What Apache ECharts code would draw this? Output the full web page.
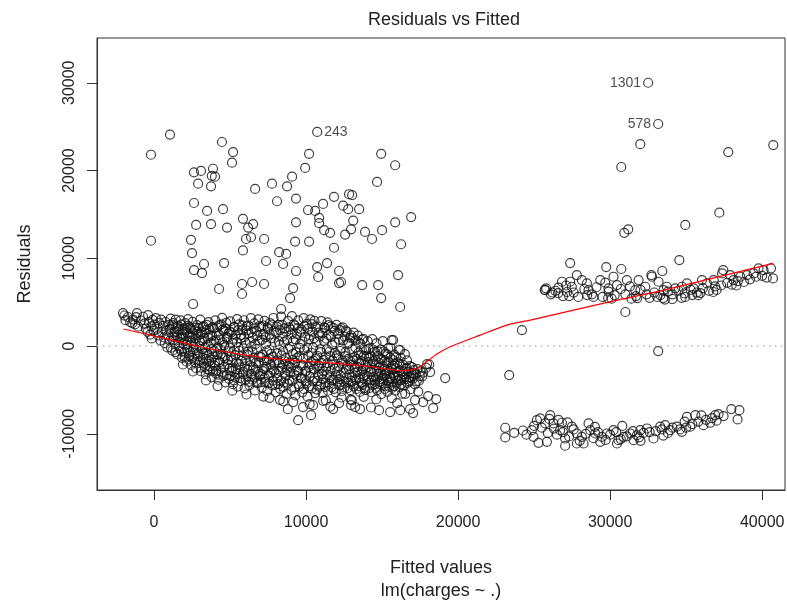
<!DOCTYPE html>
<html>
<head>
<meta charset="utf-8">
<title>Residuals vs Fitted</title>
<script src="https://cdn.jsdelivr.net/npm/echarts@6/dist/echarts.min.js"></script>
<style>
  html, body { margin: 0; padding: 0; background: #fff; }
  #main { width: 787px; height: 602px; }
</style>
</head>
<body>
<div id="main"></div>
<script>
// axis ranges and ticks
const xMin = -3750
const xMax = 41500
const yMin = -16400
const yMax = 35100
const xTicks = [0, 10000, 20000, 30000, 40000]
const yTicks = [-10000, 0, 10000, 20000, 30000]

// dense band of residuals at low fitted values [fitted, residual]
const clusterPoints = [
  [-2040,3760],[-1710,3310],[-1880,2950],[-1560,2720],[-1950,3480],[-1380,3020],[-1120,3760],[-1250,2480],[-1040,2210],[-1430,2600],[-1180,3290],
  [-870,2910],[-720,3340],[-640,2560],[-540,1980],[-390,3530],[-330,2720],[-180,2240],[-420,1620],[-260,1310],[-90,2980],[-30,1760],[-150,870],[40,2450],
  [120,3180],[210,1960],[280,1220],[340,2640],[430,620],[470,3010],[520,1580],[590,2290],[650,980],[710,330],[760,2740],[820,1760],[880,-160],[930,1230],[990,2420],[1040,610],
  [1090,3120],[1150,1890],[1210,-520],[1260,2610],[1320,1020],[1370,240],[1430,3020],[1480,1640],[1540,-950],[1590,2270],[1640,460],[1690,-280],[1750,2920],[1800,1290],[1850,-1340],[1900,1920],[1960,820],[2000,-650],
  [2050,2610],[2090,140],[2150,-1780],[2200,1480],[2240,3070],[2300,-1090],[2350,2130],[2390,620],[2440,-2150],[2490,1020],[2540,2760],[2590,-420],[2630,-1560],[2680,1780],[2720,230],[2770,-2530],[2820,2390],[2860,-860],[2910,1260],[2960,-1930],[3000,530],
  [3040,3010],[3080,-2870],[3130,1630],[3170,-330],[3220,-1340],[3260,2280],[3310,880],[3350,-2360],[3400,-3210],[3440,1840],[3490,-760],[3530,120],[3580,2720],[3620,-1720],[3670,-2790],[3710,1220],[3760,-380],[3800,-3560],[3850,2160],[3890,-1190],[3940,560],[3980,-2240],
  [4030,2930],[4070,-3120],[4120,1460],[4160,-170],[4210,-1640],[4250,-3840],[4300,2380],[4340,740],[4390,-920],[4430,-2580],[4480,3220],[4520,1880],[4570,-3410],[4610,110],[4660,-1360],[4700,-4130],[4750,2640],[4790,1020],[4840,-2060],[4880,-560],[4930,-3730],[4970,1660],
  [5010,2820],[5060,-1210],[5100,-2820],[5150,370],[5190,-4340],[5240,2160],[5280,-530],[5330,-3560],[5370,1290],[5420,-1870],[5460,3060],[5510,-4610],[5550,-160],[5600,2470],[5640,-2440],[5690,880],[5730,-3980],[5780,-1080],[5820,1830],[5870,-2980],[5910,2940],[5960,-4820],
  [6010,390],[6050,-1630],[6100,2270],[6140,-3420],[6190,-640],[6230,1460],[6280,-4460],[6320,-2210],[6370,3180],[6410,-80],[6460,-3830],[6500,970],[6550,-1380],[6590,2580],[6640,-5060],[6680,-2690],[6730,1720],[6770,-360],[6820,-4220],[6860,3040],[6910,-1930],[6950,610],
  [7000,-3190],[7050,2190],[7090,-4730],[7140,-980],[7180,1340],[7230,-2560],[7270,2860],[7320,-4080],[7360,240],[7410,-1620],[7450,-5110],[7500,1960],[7540,-3380],[7590,-420],[7630,2630],[7680,-2090],[7720,880],[7770,-4490],[7810,-1240],[7860,3200],[7900,-2820],[7950,420],
  [8000,-5260],[8040,1540],[8090,-830],[8130,-3640],[8180,2410],[8220,-1920],[8270,130],[8310,-4870],[8360,3360],[8400,-2480],[8450,1070],[8490,-560],[8540,-4160],[8580,2020],[8630,-3040],[8670,-1380],[8720,-5440],[8760,720],[8810,2870],[8850,-2260],[8900,-3850],[8940,-80],[8990,1880],
  [9030,-4980],[9070,3410],[9120,-1570],[9160,560],[9210,-3210],[9250,2340],[9300,-5620],[9340,-720],[9390,1390],[9430,-2740],[9480,2930],[9520,-4340],[9570,-1130],[9610,240],[9660,-3620],[9700,1880],[9750,-5270],[9790,-2190],[9840,3180],[9880,-430],[9930,1060],[9970,-4000],
  [10010,-2840],[10060,2520],[10100,-5770],[10150,-1050],[10190,780],[10240,-3480],[10280,3050],[10330,-1820],[10370,-4830],[10420,1640],[10460,-180],[10510,-2590],[10550,2880],[10600,-5360],[10640,-1410],[10690,440],[10730,-3970],[10780,2230],[10820,-2210],[10870,-4620],[10910,1090],[10960,-680],
  [11000,2830],[11050,-3190],[11090,-5340],[11140,-1610],[11180,590],[11230,2060],[11270,-4210],[11320,-2470],[11360,-380],[11410,2700],[11450,-5090],[11500,1270],[11540,-3560],[11590,-1150],[11630,2210],[11680,-4690],[11720,160],[11770,-2120],[11810,-3840],[11860,1730],[11900,-780],[11950,-5270],
  [12000,2420],[12050,-2870],[12090,-1390],[12140,760],[12180,-4460],[12230,1810],[12270,-3360],[12320,-280],[12360,-5120],[12410,2140],[12450,-1920],[12500,-4040],[12540,1060],[12590,-690],[12630,-2660],[12680,1620],[12720,-4800],[12770,-1460],[12810,390],[12860,-3270],[12900,-5030],[12950,1230],
  [13000,-2130],[13040,-380],[13090,-4350],[13130,1540],[13180,-1260],[13220,-3050],[13270,640],[13310,-4880],[13360,-2360],[13400,1180],[13450,-760],[13490,-3690],[13540,-5230],[13580,240],[13630,-1710],[13670,-2860],[13720,-4420],[13760,830],[13810,-1120],[13850,-3320],[13900,-5010],[13950,-460],
  [14000,-2440],[14050,560],[14090,-3880],[14140,-1340],[14180,-4770],[14230,-220],[14270,-2920],[14320,-5260],[14360,790],[14410,-1760],[14450,-3530],[14500,-660],[14540,-4330],[14590,-2180],[14630,310],[14680,-5020],[14720,-1120],[14770,-3190],[14810,-2460],[14860,-4060],[14900,-410],[14950,-5470],
  [15000,-1580],[15050,560],[15090,-3660],[15140,-2640],[15180,-4890],[15230,-860],[15270,-3130],[15320,-1920],[15360,-5210],[15410,-240],[15450,-4150],[15500,-2810],[15540,-1330],[15590,-3620],[15630,680],[15680,-4740],[15720,-2230],[15770,-3380],[15810,-1010],[15860,-5080],[15900,-2540],[15950,-4260],
  [16000,-1870],[16050,-3420],[16090,-420],[16140,-4660],[16180,-2760],[16230,-1340],[16270,-3880],[16320,-5420],[16360,-2120],[16410,-3190],[16450,-4480],[16500,-920],[16550,-2560],[16590,-3760],[16640,-1640],[16680,-4190],[16730,-2930],[16780,-3540],[16820,-2290],[16870,-4920],[16920,-3060],[16970,-2410],[17020,-3710],[17100,-2750],[17160,-4360],[17230,-3200],[17320,-2620],[17420,-3980],[17520,-2880],[17650,-3450],[17900,-2470],[18100,-2100]
]

// extra points in the darkest part of the band
const clusterCore = [
  [1020,1940],[1110,-180],[1190,2380],[1280,640],[1340,1540],[1410,-690],[1460,2170],[1530,1020],[1610,1820],[1670,-20],[1730,880],[1780,2450],[1830,-610],[1890,1390],[1940,240],[1990,2010],
  [2020,-1240],[2070,1830],[2130,570],[2180,-310],[2220,2290],[2270,-1520],[2330,1080],[2370,-720],[2420,1960],[2460,360],[2510,-1380],[2560,1430],[2610,-90],[2660,2110],[2700,-1850],[2750,870],[2790,-470],[2840,1620],[2890,-1180],[2940,2060],[2980,-20],
  [3020,-1650],[3060,1340],[3110,-2460],[3150,620],[3200,2180],[3240,-870],[3290,-2010],[3330,1520],[3370,-180],[3420,-1480],[3460,2420],[3510,-2630],[3560,930],[3600,-1040],[3640,1930],[3690,-2260],[3730,380],[3780,-1560],[3820,1170],[3870,-2840],[3910,2010],[3960,-570],
  [4010,-1920],[4050,660],[4090,-2790],[4140,2140],[4180,-980],[4230,-3260],[4270,1230],[4320,-1820],[4360,-380],[4410,2470],[4450,-3020],[4500,420],[4540,-1180],[4590,1720],[4630,-2330],[4680,-160],[4720,2010],[4770,-3300],[4810,870],[4860,-1540],[4900,1420],[4950,-2560],[4990,-220],
  [5030,-3430],[5080,1560],[5120,-1640],[5170,-2470],[5210,840],[5260,-3900],[5300,2160],[5350,-1020],[5390,-2650],[5440,450],[5480,-3170],[5530,1810],[5570,-2050],[5620,-560],[5660,-3630],[5710,1240],[5750,-1690],[5800,2360],[5840,-3210],[5890,-260],[5930,1010],[5980,-2330],
  [6030,-3820],[6070,1790],[6120,-980],[6160,-2710],[6210,2340],[6250,-4070],[6300,480],[6340,-1740],[6390,-3190],[6430,1580],[6480,-620],[6520,-2430],[6570,2010],[6610,-3560],[6660,210],[6700,-1890],[6750,-4160],[6790,1200],[6840,-2940],[6880,-1160],[6930,2260],[6970,-3420],
  [7020,-1260],[7070,-4120],[7110,710],[7160,-2860],[7200,2340],[7250,-1760],[7290,-3620],[7340,1020],[7380,-2360],[7430,-540],[7470,2120],[7520,-4240],[7560,-1480],[7610,1340],[7650,-3060],[7700,-880],[7740,2440],[7790,-2660],[7830,-3930],[7880,1690],[7920,-1950],[7970,-4410],
  [8020,-3120],[8070,2210],[8110,-1620],[8160,-4330],[8200,560],[8250,-2830],[8290,1820],[8340,-3980],[8380,-1060],[8430,2430],[8470,-2050],[8520,-4640],[8560,440],[8610,-1730],[8650,-3460],[8700,1610],[8740,-2720],[8790,-4280],[8830,-330],[8880,2140],[8920,-1940],[8970,-3020],
  [9010,-2460],[9050,1330],[9100,-3920],[9140,-890],[9190,2480],[9230,-4720],[9280,-1910],[9320,780],[9370,-3380],[9410,-1340],[9460,2060],[9500,-2930],[9550,-4610],[9590,-210],[9640,1620],[9680,-2240],[9730,-3710],[9770,520],[9820,-1420],[9860,-4890],[9910,2310],[9950,-2890],
  [10030,-4250],[10080,-240],[10120,1950],[10170,-2380],[10210,-4570],[10260,1230],[10300,-3040],[10350,-760],[10390,2510],[10440,-4010],[10480,-1670],[10530,910],[10570,-3640],[10620,-2020],[10660,2140],[10710,-4960],[10750,-1130],[10800,-3280],[10840,1540],[10890,-2570],[10930,-380],[10980,-4390],
  [11020,-1920],[11070,1480],[11110,-3760],[11160,-2860],[11200,2130],[11250,-4660],[11290,-1190],[11340,840],[11380,-3260],[11430,-1950],[11470,2390],[11520,-4300],[11560,-620],[11610,-2830],[11650,1040],[11700,-3890],[11740,-1660],[11790,2070],[11830,-4870],[11880,-2560],[11920,420],[11970,-3330],
  [12020,-1060],[12070,-4060],[12110,1420],[12160,-2280],[12200,-3760],[12250,-560],[12290,2030],[12340,-4420],[12380,-1680],[12430,620],[12470,-2990],[12520,-4710],[12560,-1140],[12610,1760],[12650,-3580],[12700,-2240],[12740,260],[12790,-4160],[12830,-2620],[12880,960],[12920,-1750],[12970,-3960],
  [13020,-3560],[13060,940],[13110,-1660],[13150,-4590],[13200,-2430],[13240,-140],[13290,-3820],[13330,-1480],[13380,-2980],[13420,450],[13470,-4560],[13510,-1920],[13560,-3240],[13600,-1060],[13650,-4160],[13690,720],[13740,-2560],[13780,-3660],[13830,-420],[13870,-4760],[13920,-2140],[13970,-1210],
  [14020,-3460],[14070,-1820],[14110,-320],[14160,-4180],[14200,-2640],[14250,-1160],[14290,-3860],[14340,-2040],[14380,-4460],[14430,-420],[14470,-2720],[14520,-3920],[14560,-1540],[14610,-4780],[14650,-2820],[14700,-560],[14740,-3560],[14790,-1880],[14830,-4320],[14880,-2980],[14920,-1460],[14970,-3760],
  [15020,-4260],[15070,-2280],[15110,-620],[15160,-3360],[15200,-1640],[15250,-4520],[15290,-2760],[15340,-960],[15380,-3880],[15430,-1860],[15470,-4640],[15520,-3460],[15560,-220],[15610,-2560],[15650,-4040],[15700,-1560],[15740,-3120],[15790,-4560],[15830,-2060],[15880,-3640],[15920,-1260],[15970,-2980],
  [16060,-3880],[16160,-2040],[16260,-4360],[16380,-2880],[16480,-3600],[16620,-2480],[16760,-4020],[16900,-3560],[17080,-3120],[17280,-4020],[17480,-3400],[17700,-3020]
]

// points below the dense band
const lowerOutliers = [
  [19150,-3650],[18560,-6040],[18360,-7070],[17040,-7640],[16840,-7180],[15530,-7520],[13550,-7180],[13230,-6950],[11780,-7180],[17700,-6380],[15990,-6500],
  [18160,-2960],[17960,-2050],[9480,-8440],[10330,-7870],[9800,-6950],[10460,-6730],[12170,-6500],[12960,-6720],[14270,-7000],[14800,-7300],[16190,-7300],
  [17170,-6150],[18030,-5700],[15730,680],[16190,-460],[12950,-6100],[8500,-6300],[7600,-5900],[11300,-6200],
  [3420,-3920],[4180,-4560],[5150,-5080],[6080,-5520],[7190,-5760],[8280,-6120],[9150,-6380],[10240,-6620],[11120,-6240],[12330,-5860],[13010,-6180],
  [13790,-5780],[14620,-6060],[15640,-5920],[16520,-5440],[17380,-5180],[2560,-2900],[1900,-2100],[8800,-7200],[11600,-6900]
]

// scattered large positive residuals at low fitted values
const upperPoints = [
  [-200,21800],[1050,24100],[-200,12000],[4470,23250],[5200,22100],[5130,20900],[2630,19800],[3090,19950],[3880,20200],[3800,19400],[4010,19300],[2900,18500],
  [3750,18200],[6650,17900],[2630,16300],[3490,15400],[4540,15600],[2770,13800],[3750,13900],[4800,13500],[5850,14500],[6190,13500],[6520,13900],[6380,12400],
  [6050,12200],[7240,12200],[2430,12100],[2500,10600],[5850,10900],[3290,9350],[2630,8660],[3160,8320],[4610,9460],[7370,9690],[5790,7070],[6450,7300],
  [7240,7070],[5790,5930],[4280,6500],[2570,4790],
  [10200,21900],[14940,21900],[15860,20600],[9940,20300],[9080,19300],[8750,18200],[7760,18500],[14670,18700],[8090,16500],[9340,16800],[11840,17000],
  [12830,17300],[13030,17200],[11120,16200],[12440,16000],[12770,15600],[13490,15600],[10130,15500],[10600,15400],[10860,14600],[9340,14100],[10860,14000],
  [13100,14300],[16910,14700],[15860,14100],[15000,13200],[13880,13000],[11190,13200],[11580,12900],[12570,12700],[12960,13300],[14340,12200],[9280,11900],
  [10200,11900],[16250,11600],[11840,11200],[8230,10700],[8690,10500],[8490,9350],[11380,9460],[10730,9000],[9340,8550],[12170,8550],[10800,7870],[16050,8090],
  [12170,7180],[12300,7300],[13690,6950],[14740,6950],[9150,6610],[8950,5470],[14940,5470],[16190,4450],[8360,4220]
]

// band of positive residuals at high fitted values
const rightUpperPoints = [
  [25790,6580],[26600,6650],[26830,7330],[27370,7330],[27480,6760],[27810,8090],[28140,7520],[28470,7140],[28580,6380],[29350,7520],[29680,7220],[29890,6580],
  [30220,7900],[30450,6950],[31100,7520],[31650,6380],[31870,7520],[32310,6760],[32750,7900],[33180,7330],[33510,6380],[33730,6760],[34280,6580],[34720,6760],
  [35050,7140],[35490,6580],[36040,7520],[36370,7140],[36810,7520],[37360,8280],[37900,8090],[38120,7520],[38560,7900],[39000,8090],[39440,8280],[39760,8860],
  [40090,8660],[40580,8860],[40710,7710],
  [25730,6380],[26580,6040],[27170,6160],[28490,5810],[29870,5470],[31780,5470],[33100,5590],[33490,5470],[34090,5360],[34940,5590],[35400,5810],[35930,6040],[36780,6160],
  [26100,5900],[26400,6300],[26900,5700],[27100,6900],[27600,6100],[27900,5600],[28300,6500],[28800,5900],[29100,6700],[29500,5600],[29900,6200],[30300,5800],
  [30700,6500],[31000,5900],[31300,6800],[31700,5700],[32000,6400],[32400,5900],[32900,6100],[33300,5800],[33800,6200],[34100,5900],[34500,6300],[34900,6000],
  [35300,6400],[35700,6100],[36100,6600],[36500,6300],[36900,6800],[37300,6900],[37700,7200],[38000,7000],[38400,7400],[38800,7300],[39200,7600],[39600,7900],
  [40000,8000],[40300,7800],[38300,6900],[37000,6400],[35800,5800],[34700,5500],[33600,5300],[32600,5500],[31400,5400],[30100,5400],[28900,5600],[27300,5700],
  [26200,6100],[25700,6400],
  [31190,13300],[30930,12900],[34550,9800],[27370,9460],[29740,9000],[30730,8780],[33430,8550],[32710,8090],[37440,8660],[31000,3880],[24200,1820],[23360,-3300],
  [33160,-570],[31980,23000],[40730,22900],[37770,22100],[30730,20400],[37180,15200],[34940,13800]
]

// band of negative residuals at high fitted values
const rightLowerPoints = [
  [23100,-9310],[23100,-10410],[23690,-9880],[24260,-9620],[24850,-9580],[25180,-8440],[25400,-8240],[26060,-7870],[25730,-8820],[26270,-8820],[26830,-8740],
  [26710,-9580],[27040,-10530],[27040,-11360],[27480,-9190],[27810,-9960],[28140,-10340],[28580,-8820],[28690,-9580],[29020,-9960],[29460,-10340],[29790,-9960],
  [30220,-9580],[30550,-10720],[30880,-10340],[31320,-9960],[31760,-10150],[31980,-9580],[32420,-9390],[32850,-10530],[33290,-9190],[33620,-9010],[33950,-9580],
  [34390,-9190],[34720,-9770],[35050,-8060],[35270,-9190],[35600,-7870],[36140,-9010],[36580,-8740],[36910,-7870],[37130,-7750],[37460,-7980],[37970,-7180],
  [38380,-8360],[25290,-11020],[25840,-10910],[24960,-10340],[27810,-11100],[28250,-11100],[29350,-10910],[30450,-11100],[31540,-10720],
  [25500,-9300],[25900,-9900],[26300,-9400],[26500,-10100],[26900,-9800],[27300,-10300],[27600,-9500],[28000,-10800],[28400,-10000],[28900,-10500],[29200,-9800],
  [29700,-10700],[30000,-10100],[30400,-9800],[30700,-10600],[31100,-10300],[31500,-9700],[31900,-10400],[32200,-9900],[32600,-9800],[33000,-9700],[33400,-9500],
  [33800,-9900],[34100,-9300],[34600,-9500],[35000,-9300],[35400,-8900],[35800,-8600],[36300,-8400],[36700,-8200],[37000,-8500],[24500,-10100],[25000,-9100],
  [26000,-8300],[26600,-8400],[27200,-8700],[29000,-9200],[30800,-9100],[32000,-10800],[33500,-10200],[34900,-8600],[36000,-7900],[38500,-7300]
]

// labelled observations
const labelNames = ['243', '1301', '578']
const labelFitted = [10730, 32500, 33160]
const labelResid = [24400, 30000, 25300]

// smoothed trend line
const smoothFitted = [-2020, 395, 3030, 5660, 8290, 9800, 12020, 14210, 16190, 17280, 17940, 18600, 19480, 21450, 23210, 24740, 30450, 33510, 40710]
const smoothResid = [1940, 990, -80, -950, -1520, -1710, -1980, -2360, -2810, -2540, -1790, -910, -80, 1250, 2390, 2960, 5240, 6380, 9420]

const fontFamily = '"Liberation Sans", Arial, Helvetica, sans-serif'
const inkColor = '#222'
const frameColor = '#333'

const circleStyle = {
  color: 'transparent',
  borderColor: '#111',
  borderWidth: 1.2
}

const scatterSeries = (data) => ({
  type: 'scatter',
  symbol: 'circle',
  symbolSize: 9,
  itemStyle: circleStyle,
  silent: true,
  data: data
})

const plainNumber = (value) => String(value)

const chart = echarts.init(document.getElementById('main'), null, { renderer: 'canvas' })

const option = {
  animation: false,
  backgroundColor: '#fff',
  grid: {
    left: 97,
    right: 2,
    top: 38,
    bottom: 112,
    containLabel: false,
    outerBoundsMode: 'none',
    show: true,
    borderColor: frameColor,
    borderWidth: 1,
    backgroundColor: 'transparent'
  },
  graphic: [
    {
      type: 'text',
      x: 444,
      y: 20,
      style: {
        text: 'Residuals vs Fitted',
        fill: inkColor,
        font: '18px ' + fontFamily,
        textAlign: 'center',
        textVerticalAlign: 'middle'
      }
    }
  ],
  xAxis: {
    type: 'value',
    position: 'bottom',
    min: xMin,
    max: xMax,
    name: 'Fitted values\nlm(charges ~ .)',
    nameLocation: 'middle',
    nameGap: 67,
    nameTextStyle: { color: inkColor, fontSize: 18, fontFamily: fontFamily, lineHeight: 23 },
    axisLine: { show: true, onZero: false, lineStyle: { color: frameColor, width: 1 } },
    splitLine: { show: false },
    axisTick: { show: true, inside: false, customValues: xTicks, length: 10, lineStyle: { color: frameColor, width: 1 } },
    axisLabel: { customValues: xTicks, formatter: plainNumber, margin: 25, color: inkColor, fontSize: 16, fontFamily: fontFamily }
  },
  yAxis: {
    type: 'value',
    position: 'left',
    min: yMin,
    max: yMax,
    name: 'Residuals',
    nameLocation: 'middle',
    nameGap: 63,
    nameRotate: 90,
    nameTextStyle: { color: inkColor, fontSize: 18, fontFamily: fontFamily },
    axisLine: { show: true, onZero: false, lineStyle: { color: frameColor, width: 1 } },
    splitLine: { show: false },
    axisTick: { show: true, inside: false, customValues: yTicks, length: 10, lineStyle: { color: frameColor, width: 1 } },
    axisLabel: { customValues: yTicks, formatter: plainNumber, rotate: 90, margin: 19, color: inkColor, fontSize: 16, fontFamily: fontFamily }
  },
  series: [
    {
      type: 'line',
      data: [],
      markLine: {
        silent: true,
        symbol: ['none', 'none'],
        label: { show: false },
        lineStyle: { color: '#b8b8b8', type: [1.5, 4.5], width: 1.5 },
        data: [{ yAxis: 0 }]
      }
    },
    scatterSeries(clusterPoints),
    scatterSeries(clusterCore),
    scatterSeries(lowerOutliers),
    scatterSeries(upperPoints),
    scatterSeries(rightUpperPoints),
    scatterSeries(rightLowerPoints),
    {
      type: 'scatter',
      symbol: 'circle',
      symbolSize: 9,
      itemStyle: circleStyle,
      silent: true,
      data: labelNames.map((name, i) => ({
        name: name,
        value: [labelFitted[i], labelResid[i]],
        label: {
          show: true,
          position: i === 0 ? 'right' : 'left',
          distance: 2,
          formatter: '{b}',
          color: inkColor,
          fontSize: 14,
          fontFamily: fontFamily
        }
      }))
    },
    {
      type: 'line',
      data: smoothFitted.map((x, i) => [x, smoothResid[i]]),
      showSymbol: false,
      smooth: 0.25,
      silent: true,
      lineStyle: { color: '#ff0000', width: 1.2 },
      z: 5
    }
  ]
}

chart.setOption(option)
</script>
</body>
</html>
